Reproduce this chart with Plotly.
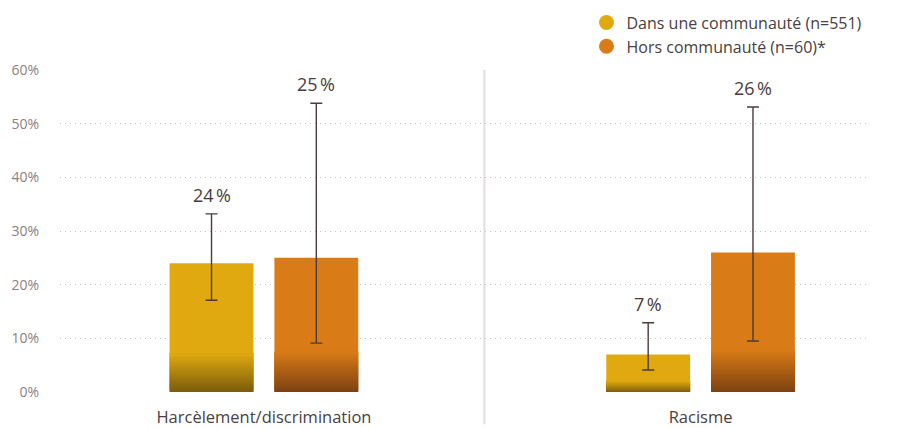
import plotly.graph_objects as go

categories = ["Harcèlement/discrimination", "Racisme"]
series_names = ["Dans une communauté (n=551)", "Hors communauté (n=60)*"]
values = [[24, 7], [25, 26]]
err_low = [[17.1, 4.1], [9.1, 9.5]]
err_high = [[33.2, 12.9], [53.8, 53.1]]
y_ticks = [0, 10, 20, 30, 40, 50, 60]
y_tick_labels = ["0%", "10%", "20%", "30%", "40%", "50%", "60%"]

colors = ["#E0A90F", "#D97B17"]
dark_colors = ["#7A5C0C", "#7C4110"]
offsets = [-0.12, 0.12]
bar_width = 0.192
grad_frac = 0.3
n_slices = 20
FONT = "Open Sans"


def hex_to_rgb(h):
    h = h.lstrip("#")
    return tuple(int(h[i:i + 2], 16) for i in (0, 2, 4))


def mix(c1, c2, t):
    a, b = hex_to_rgb(c1), hex_to_rgb(c2)
    return "rgb(%d,%d,%d)" % tuple(round(a[i] + (b[i] - a[i]) * t) for i in range(3))


fig = go.Figure()
xs_cat = list(range(len(categories)))

for s in range(len(series_names)):
    xs = [i + offsets[s] for i in xs_cat]
    vals = values[s]
    # full bar in solid colour
    fig.add_trace(go.Bar(
        x=xs, y=vals, width=bar_width, marker=dict(color=colors[s], line=dict(width=0)),
        showlegend=False, hoverinfo="skip"))
    # gradient slices at the bottom (overlapping to avoid seams)
    for k in range(n_slices):
        lo = [v * grad_frac * k / n_slices for v in vals]
        h = [v * grad_frac / n_slices * 2.0 if k < n_slices - 1 else v * grad_frac / n_slices for v in vals]
        t = 1 - (k + 0.5) / n_slices
        fig.add_trace(go.Bar(
            x=xs, y=h, base=lo, width=bar_width,
            marker=dict(color=mix(colors[s], dark_colors[s], t), line=dict(width=0)),
            showlegend=False, hoverinfo="skip"))

# error bars on top
for s in range(len(series_names)):
    xs = [i + offsets[s] for i in xs_cat]
    vals = values[s]
    fig.add_trace(go.Scatter(
        x=xs, y=vals, mode="markers", marker=dict(size=1, color="rgba(0,0,0,0)"),
        error_y=dict(type="data", symmetric=False,
                     array=[err_high[s][i] - vals[i] for i in xs_cat],
                     arrayminus=[vals[i] - err_low[s][i] for i in xs_cat],
                     color="#4E3B3B", thickness=1.4, width=6),
        showlegend=False, hoverinfo="skip"))
    for i in xs_cat:
        fig.add_annotation(x=i + offsets[s], y=err_high[s][i], yshift=19,
                           text="%d\u202f%%" % vals[i], showarrow=False,
                           font=dict(family=FONT, size=18, color="#4A3C3C"))

# legend entries with circular markers
for s in range(len(series_names)):
    fig.add_trace(go.Scatter(
        x=[None], y=[None], mode="markers", name=series_names[s],
        marker=dict(symbol="circle", size=15, color=colors[s])))

# separator line between categories
fig.add_shape(type="line", xref="x", yref="paper", x0=0.505, x1=0.505, y0=-0.1, y1=1.0,
              line=dict(color="#E3DCDC", width=2))

fig.update_layout(
    width=914, height=428,
    margin=dict(l=60, r=44, t=70, b=36, autoexpand=False),
    paper_bgcolor="white", plot_bgcolor="white",
    barmode="overlay",
    font=dict(family=FONT, color="#4A4040"),
    legend=dict(x=0.65, y=1.2, xanchor="left", yanchor="top",
                font=dict(family=FONT, size=16, color="#4A4040"),
                bgcolor="rgba(0,0,0,0)", itemwidth=30, tracegroupgap=0),
    xaxis=dict(range=[-0.467, 1.388], tickvals=xs_cat, ticktext=categories,
               showgrid=False, zeroline=False, showline=False, ticks="",
               ticklabelstandoff=13,
               tickfont=dict(family=FONT, size=16.5, color="#4A4040"), fixedrange=True),
    yaxis=dict(range=[0, 60], tickvals=y_ticks, ticktext=y_tick_labels,
               showgrid=True, gridcolor="#C9C0C0", griddash="1px,4px", gridwidth=1,
               zeroline=False, showline=False, ticks="", ticklabelstandoff=20,
               tickfont=dict(family=FONT, size=14, color="#8C8080"), fixedrange=True),
)

fig.write_html("out.html", config={"displayModeBar": False},
               post_script="document.body.style.margin='0px';document.body.style.overflow='hidden';")
